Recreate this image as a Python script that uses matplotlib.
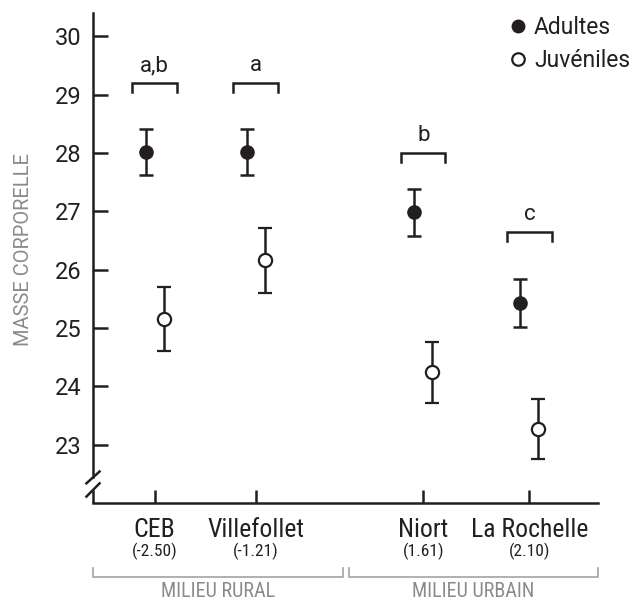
import numpy as np
import matplotlib
matplotlib.use("Agg")
import matplotlib.pyplot as plt
from matplotlib.lines import Line2D
from matplotlib import transforms

# data
sites = ["CEB", "Villefollet", "Niort", "La Rochelle"]
indices = ["(-2.50)", "(-1.21)", "(1.61)", "(2.10)"]
adult_mean = [28.02, 28.02, 26.98, 25.43]
adult_err = [0.40, 0.40, 0.40, 0.41]
juv_mean = [25.15, 26.16, 24.24, 23.27]
juv_err = [0.55, 0.56, 0.52, 0.52]
letters = ["a,b", "a", "b", "c"]
bracket_y = [29.2, 29.2, 28.0, 26.65]
groups = ["MILIEU RURAL", "MILIEU URBAIN"]

# layout
xpos = np.array([0, 1, 2.66, 3.71])
off = 0.09
ink = "#231f20"
grey = "#8a8a8a"
narrow = ["Roboto Condensed", "Roboto", "DejaVu Sans"]
plt.rcParams['font.family'] = ['Roboto', 'DejaVu Sans']

fig = plt.figure(figsize=(6.43, 6.01), dpi=100)
ax = fig.add_axes([93/643, 1-503/601, 505/643, 490/601])

ax.errorbar(xpos - off, adult_mean, yerr=adult_err, fmt='o', color=ink,
            ms=9.5, elinewidth=1.8, capsize=5, capthick=1.8, zorder=3)
ax.errorbar(xpos + off, juv_mean, yerr=juv_err, fmt='o', color=ink,
            mfc='white', mec=ink, mew=1.6, ms=9.5, elinewidth=1.8,
            capsize=5, capthick=1.8, zorder=3)

# brackets with letters
for x, y, t in zip(xpos, bracket_y, letters):
    ax.plot([x-0.22, x-0.22, x+0.22, x+0.22], [y-0.155, y, y, y-0.155],
            color=ink, lw=1.8, solid_joinstyle='miter')
    ax.text(x, y+0.3, t, ha='center', va='center', fontsize=16, color=ink)

ax.set_xlim(-0.61, 4.39)
ax.set_ylim(22.0, 30.4)
ax.set_yticks([23, 24, 25, 26, 27, 28, 29, 30])
ax.set_xticks(xpos)
ax.set_xticklabels(sites, fontsize=18.5, family=narrow, color=ink)

for s in ['top', 'right']:
    ax.spines[s].set_visible(False)
for s in ['left', 'bottom']:
    ax.spines[s].set_linewidth(1.8)
    ax.spines[s].set_color(ink)
ax.spines['left'].set_bounds(22.44, 30.4)

ax.tick_params(axis='y', direction='in', length=10.8, width=1.8, color=ink,
               labelsize=17, labelcolor=ink, pad=8.5)
ax.tick_params(axis='x', direction='in', length=9.4, width=1.8, color=ink,
               pad=11)

# axis break
tr = transforms.blended_transform_factory(ax.transAxes, ax.transData)
ax.plot([0, 0], [22.0, 22.22], color=ink, lw=1.8, transform=tr, clip_on=False,
        solid_capstyle='butt')
for y0, y1 in [(22.337, 22.54), (22.11, 22.337)]:
    ax.plot([-0.013, 0.013], [y0, y1], color=ink, lw=1.8, transform=tr,
            clip_on=False)

# index values under the names
trx = transforms.blended_transform_factory(ax.transData, ax.transAxes)
for x, t in zip(xpos, indices):
    ax.text(x, -0.098, t, ha='center', va='center', fontsize=12.5,
            family=narrow, color=ink, transform=trx)

# group brackets
gspan = [(0.0, 0.495), (0.507, 1.0)]
for (a, b), g in zip(gspan, groups):
    ax.plot([a, a, b, b], [-0.133, -0.151, -0.151, -0.133], color='#a3a3a3',
            lw=1.2, transform=ax.transAxes, clip_on=False)
    ax.text((a+b)/2, -0.181, g, ha='center', va='center', fontsize=14.5,
            family=narrow, color=grey, transform=ax.transAxes)

ax.set_ylabel("MASSE CORPORELLE", fontsize=14.5, color=grey)
ax.yaxis.set_label_coords(-0.118, 0.518)

handles = [Line2D([], [], ls='none', marker='o', color=ink, ms=9),
           Line2D([], [], ls='none', marker='o', mfc='white', mec=ink, mew=1.6, ms=9)]
fig.legend(handles, ["Adultes", "Juvéniles"], loc='upper left',
           bbox_to_anchor=(510/643, 1-16/601), frameon=False, fontsize=16.5,
           handlelength=0.7, handletextpad=0.35, labelspacing=0.45,
           borderpad=0, borderaxespad=0, labelcolor=ink)

fig.savefig("out.png", dpi=100)
